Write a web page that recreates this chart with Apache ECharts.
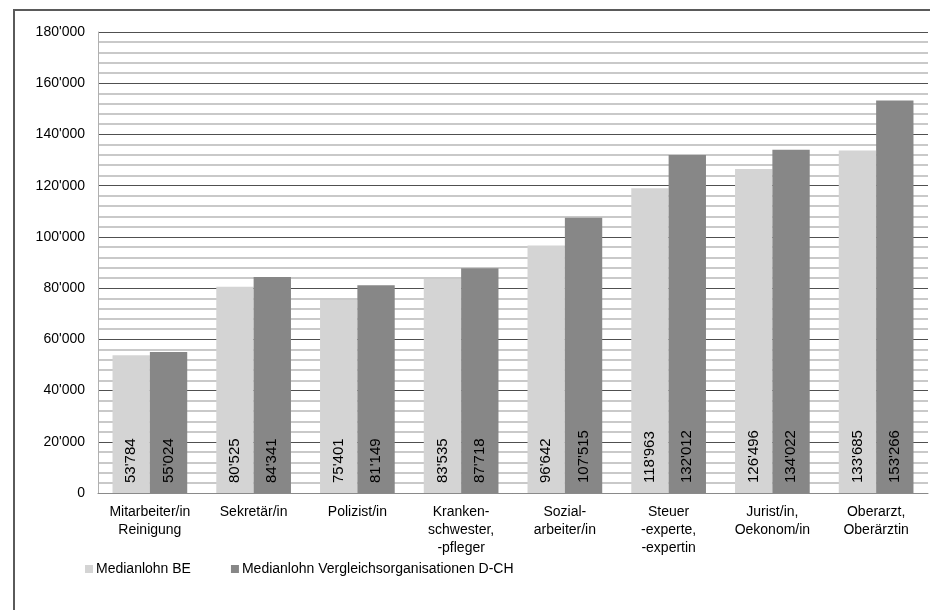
<!DOCTYPE html>
<html>
<head>
<meta charset="utf-8">
<script src="https://cdn.jsdelivr.net/npm/echarts@6/dist/echarts.min.js"></script>
<style>
  html, body { margin: 0; padding: 0; background: #ffffff; }
  #chart { width: 930px; height: 610px; }
</style>
</head>
<body>
<div id="chart"></div>
<script>
// Job categories (x axis)
const categories = [
  'Mitarbeiter/in\nReinigung',
  'Sekretär/in',
  'Polizist/in',
  'Kranken-\nschwester,\n-pfleger',
  'Sozial-\narbeiter/in',
  'Steuer\n-experte,\n-expertin',
  'Jurist/in,\nOekonom/in',
  'Oberarzt,\nOberärztin'
];

// Median salaries, canton of Bern
const medianBE = [53784, 80525, 75401, 83535, 96642, 118963, 126496, 133685];

// Median salaries, comparison organisations in German-speaking Switzerland
const medianDCH = [55024, 84341, 81149, 87718, 107515, 132012, 134022, 153266];

const seriesNames = ['Medianlohn BE', 'Medianlohn Vergleichsorganisationen D-CH'];

// Swiss thousands separator: 53'784
function swiss(v) {
  return String(Math.round(v)).replace(/\B(?=(\d{3})+(?!\d))/g, "'");
}

const FONT = 'Liberation Sans, Arial, sans-serif';

const barLabel = {
  show: true,
  position: 'insideBottom',
  rotate: 90,
  align: 'left',
  verticalAlign: 'middle',
  distance: 10,
  color: '#000',
  fontFamily: FONT,
  fontSize: 15,
  formatter: p => swiss(p.value)
};

const chart = echarts.init(document.getElementById('chart'), null, { renderer: 'canvas' });

chart.setOption({
  animation: false,
  backgroundColor: '#ffffff',
  textStyle: { fontFamily: FONT },
  graphic: [{
    type: 'rect',
    shape: { x: 14, y: 10, width: 940, height: 640 },
    style: { fill: 'none', stroke: '#5a5a5a', lineWidth: 2 },
    z: 0
  }],
  grid: { left: 98, right: 2, top: 32, bottom: 117, containLabel: false },
  legend: {
    left: 80,
    top: 557,
    itemWidth: 8,
    itemHeight: 8,
    itemGap: 40,
    icon: 'rect',
    textStyle: { fontFamily: FONT, fontSize: 14, color: '#000', padding: [0, 0, 0, -2] },
    data: seriesNames
  },
  xAxis: {
    type: 'category',
    data: categories,
    axisLine: { show: true, lineStyle: { color: '#8a8a8a', width: 1 } },
    axisTick: { show: false },
    axisLabel: {
      color: '#000',
      fontFamily: FONT,
      fontSize: 14,
      lineHeight: 18,
      margin: 10,
      interval: 0
    }
  },
  yAxis: {
    type: 'value',
    min: 0,
    max: 180000,
    interval: 20000,
    axisLine: { show: true, lineStyle: { color: '#b0b0b0', width: 1 } },
    axisTick: { show: false },
    axisLabel: {
      color: '#000',
      fontFamily: FONT,
      fontSize: 14,
      margin: 13,
      formatter: v => swiss(v)
    },
    splitLine: { show: true, lineStyle: { color: '#505050', width: 1 } },
    minorTick: { show: false, splitNumber: 5 },
    minorSplitLine: { show: true, lineStyle: { color: '#b8b8b8', width: 1.5 } }
  },
  series: [
    {
      name: seriesNames[0],
      type: 'bar',
      data: medianBE,
      barGap: '0%',
      barCategoryGap: '28%',
      itemStyle: { color: '#d4d4d4' },
      label: barLabel
    },
    {
      name: seriesNames[1],
      type: 'bar',
      data: medianDCH,
      barGap: '0%',
      barCategoryGap: '28%',
      itemStyle: { color: '#878787' },
      label: barLabel
    }
  ]
});
</script>
</body>
</html>
